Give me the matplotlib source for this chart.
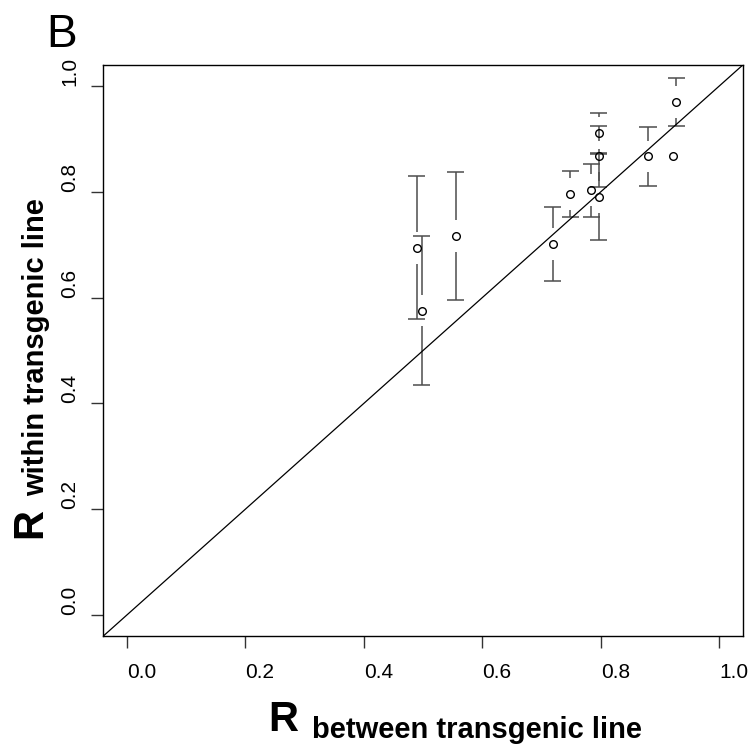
import matplotlib
matplotlib.use('Agg')
import matplotlib.pyplot as plt
import numpy as np

# R between / within transgenic line, with error bars
r_between = [0.4895, 0.498, 0.5555, 0.7194, 0.7488, 0.784, 0.797, 0.797, 0.797, 0.880, 0.922, 0.928]
r_within = [0.6945, 0.5757, 0.7167, 0.7015, 0.7958, 0.803, 0.790, 0.867, 0.912, 0.867, 0.867, 0.970]
r_err = [0.135, 0.140, 0.121, 0.070, 0.044, 0.050, 0.081, 0.057, 0.038, 0.055, 0.0, 0.045]

ticks = [0.0, 0.2, 0.4, 0.6, 0.8, 1.0]
tick_labels = ['0.0', '0.2', '0.4', '0.6', '0.8', '1.0']

narrow = ['Liberation Sans Narrow', 'Liberation Sans', 'DejaVu Sans']

fig = plt.figure(figsize=(7.52, 7.51), dpi=100)
ax = fig.add_axes([0.1374, 0.1531, 0.8503, 0.7603])

x = np.array(r_between)
y = np.array(r_within)
e = np.array(r_err)

gap = 0.03   # bars stop short of the point (plotCI style)
cap = 0.0144
bar_col = '#4d4d4d'
for xi, yi, ei in zip(x, y, e):
    if ei <= 0:
        continue
    if ei > gap:
        ax.vlines(xi, yi + gap, yi + ei, color=bar_col, lw=1.1)
        ax.vlines(xi, yi - ei, yi - gap, color=bar_col, lw=1.1)
    ax.hlines([yi - ei, yi + ei], xi - cap, xi + cap, color=bar_col, lw=1.1)

ax.plot(x, y, 'o', mfc='none', mec='black', ms=5.5, mew=1.0)
ax.axline((0, 0), slope=1, color='black', lw=0.9)

ax.set_xlim(-0.04, 1.04)
ax.set_ylim(-0.04, 1.04)
ax.set_xticks(ticks)
ax.set_yticks(ticks)
ax.set_xticklabels(tick_labels, family=narrow, fontsize=15, ha='left')
ax.set_yticklabels(tick_labels, family=narrow, fontsize=15, rotation=90, va='bottom')
ax.tick_params(axis='both', length=8.6, width=1.0, color='#333333')
ax.tick_params(axis='x', pad=11)
ax.tick_params(axis='y', pad=9)
for s in ax.spines.values():
    s.set_linewidth(1.0)

# axis titles: big bold R with a lowered subscript
fig.text(0.357, 0.027, 'R', fontsize=30, fontweight='bold', family='Liberation Sans')
fig.text(0.415, 0.017, 'between transgenic line', fontsize=21, fontweight='bold', family=narrow)
fig.text(0.014, 0.296, 'R', fontsize=30, fontweight='bold', family='Liberation Sans', rotation=90)
fig.text(0.030, 0.348, 'within transgenic line', fontsize=21, fontweight='bold', family=narrow, rotation=90)

fig.text(0.062, 0.937, 'B', fontsize=33, family=narrow)

fig.savefig('out.png', dpi=100)
